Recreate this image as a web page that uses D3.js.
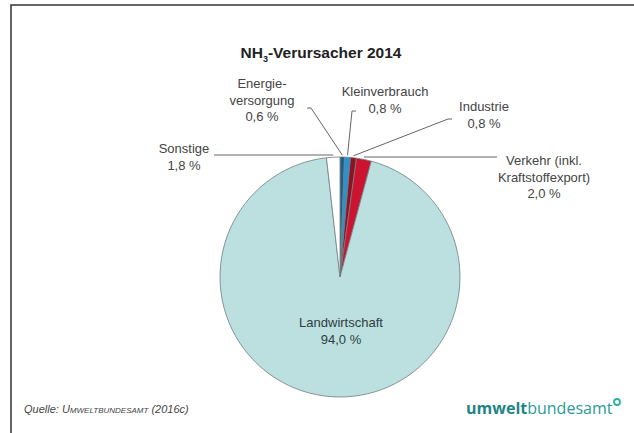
<!DOCTYPE html>
<html>
<head>
<meta charset="utf-8">
<script src="https://cdn.jsdelivr.net/npm/d3@7"></script>
<style>
  body { margin: 0; background: #fff; }
  text { font-family: "Liberation Sans", Arial, sans-serif; }
</style>
</head>
<body>
<div id="graph"></div>
<script>
// data
var categories = ['Energieversorgung', 'Kleinverbrauch', 'Industrie', 'Verkehr', 'Landwirtschaft', 'Sonstige'];
var values = [0.6, 0.8, 0.8, 2.0, 94.0, 1.8];
var labelLines = [
  ['Energie-', 'versorgung', '0,6 %'],
  ['Kleinverbrauch', '0,8 %'],
  ['Industrie', '0,8 %'],
  ['Verkehr (inkl.', 'Kraftstoffexport)', '2,0 %'],
  ['Landwirtschaft', '94,0 %'],
  ['Sonstige', '1,8 %']
];

var width = 634, height = 433;
var cx = 340, cy = 277, r = 120;

var color = d3.scaleOrdinal()
  .domain(categories)
  .range(['#1c5f8c', '#2a93cf', '#8e1224', '#cc1430', '#bcdfdf', '#ffffff']);

// label layout: text anchor point, leader start point
var layout = {
  'Energieversorgung': {x: 262, y: 88, anchor: 'middle', lx: 307, ly: 108},
  'Kleinverbrauch':    {x: 385, y: 96, anchor: 'middle', lx: 356, ly: 111},
  'Industrie':         {x: 484, y: 111, anchor: 'middle', lx: 452, ly: 119},
  'Verkehr':           {x: 544, y: 165, anchor: 'middle', lx: 497, ly: 157},
  'Landwirtschaft':    {x: 341, y: 327, anchor: 'middle'},
  'Sonstige':          {x: 184, y: 153, anchor: 'middle', lx: 214, ly: 155}
};

var svg = d3.select('#graph').append('svg')
  .attr('width', width)
  .attr('height', height);

// frame
svg.append('path')
  .attr('d', 'M11,' + height + ' L11,5 L' + width + ',5')
  .attr('fill', 'none')
  .attr('stroke', '#333')
  .attr('stroke-width', 1.5);

// title
var title = svg.append('text')
  .attr('x', 321).attr('y', 58)
  .attr('text-anchor', 'middle')
  .style('font-size', '15.5px')
  .style('font-weight', 'bold')
  .attr('fill', '#222');
title.append('tspan').text('NH');
title.append('tspan').text('3').attr('dy', 4).style('font-size', '9px');
title.append('tspan').text('-Verursacher 2014').attr('dy', -4);

var pie = d3.pie().sort(null).value(function(d){ return d.value; });
var data = categories.map(function(c, i){ return {name: c, value: values[i], lines: labelLines[i]}; });
var arcs = pie(data);

var arc = d3.arc().innerRadius(0).outerRadius(r);

var g = svg.append('g').attr('transform', 'translate(' + cx + ',' + cy + ')');

g.selectAll('path')
  .data(arcs)
  .enter()
  .append('path')
    .attr('d', arc)
    .attr('fill', function(d){ return color(d.data.name); })
    .attr('stroke', '#6f7f80')
    .attr('stroke-width', 0.8);

// leader lines
arcs.forEach(function(d){
  var L = layout[d.data.name];
  if (L.lx === undefined) return;
  var a = (d.startAngle + d.endAngle) / 2;
  var px = cx + Math.sin(a) * r, py = cy - Math.cos(a) * r;
  var pts;
  if (d.data.name === 'Sonstige' || d.data.name === 'Verkehr') {
    pts = [[L.lx, L.ly], [px, L.ly]];
  } else {
    pts = [[L.lx, L.ly], [L.lx + (L.lx < px ? 4 : -4), L.ly], [px, py - 2]];
  }
  svg.append('path')
    .attr('d', d3.line()(pts))
    .attr('fill', 'none')
    .attr('stroke', '#666')
    .attr('stroke-width', 1);
});

// labels
arcs.forEach(function(d){
  var L = layout[d.data.name];
  var t = svg.append('text')
    .attr('x', L.x).attr('y', L.y)
    .attr('text-anchor', L.anchor)
    .attr('fill', d.data.name === 'Landwirtschaft' ? '#2c3e3e' : '#444')
    .style('font-size', '13px');
  d.data.lines.forEach(function(line, i){
    t.append('tspan')
      .attr('x', L.x)
      .attr('dy', i === 0 ? 0 : 16.5)
      .text(line);
  });
});

// source
var src = svg.append('text')
  .attr('x', 24).attr('y', 413)
  .style('font-size', '11px')
  .style('font-style', 'italic')
  .attr('fill', '#444');
src.append('tspan').text('Quelle: ');
src.append('tspan').text('Umweltbundesamt').style('font-variant', 'small-caps');
src.append('tspan').text(' (2016c)');

// logo
var logo = svg.append('text')
  .attr('x', 466).attr('y', 414)
  .style('font-size', '16px')
  .style('font-family', '"Open Sans", sans-serif');
logo.append('tspan').text('umwelt').attr('fill', '#1f8585').style('font-weight', 'bold');
logo.append('tspan').text('bundesamt').attr('fill', '#2b9a98');
svg.append('circle')
  .attr('cx', 617).attr('cy', 402).attr('r', 3)
  .attr('fill', 'none')
  .attr('stroke', '#2bb39a')
  .attr('stroke-width', 1.8);
</script>
</body>
</html>
